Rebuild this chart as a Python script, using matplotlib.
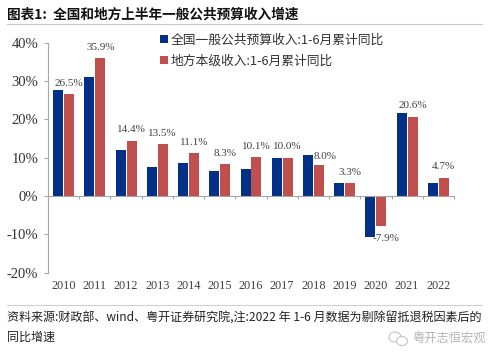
import matplotlib
matplotlib.use('Agg')
import matplotlib.pyplot as plt
from matplotlib.patches import Ellipse

plt.rcParams['font.family'] = ['Noto Sans CJK SC', 'DejaVu Sans']

years = ['2010', '2011', '2012', '2013', '2014', '2015', '2016', '2017', '2018', '2019', '2020', '2021', '2022']
national = [27.5, 31.0, 12.0, 7.5, 8.7, 6.5, 7.0, 9.8, 10.6, 3.4, -10.7, 21.7, 3.3]
local = [26.5, 35.9, 14.4, 13.5, 11.1, 8.3, 10.1, 10.0, 8.0, 3.3, -7.9, 20.6, 4.7]
yticks = [-20, -10, 0, 10, 20, 30, 40]

title = '图表1:  全国和地方上半年一般公共预算收入增速'
name_national = '全国一般公共预算收入:1-6月累计同比'
name_local = '地方本级收入:1-6月累计同比'
note1 = '资料来源:财政部、wind、粤开证券研究院,注:2022 年 1-6 月数据为剔除留抵退税因素后的'
note2 = '同比增速'
watermark = '粤开志恒宏观'

W, H = 500, 360
fig = plt.figure(figsize=(W / 100, H / 100), dpi=100)
ax = fig.add_axes([48 / W, 1 - 272.7 / H, 406 / W, 230.2 / H])

x = list(range(len(years)))
ax.bar([i - 0.175 for i in x], national, width=0.32, color='#003087', label=name_national)
ax.bar([i + 0.175 for i in x], local, width=0.32, color='#C0504D', label=name_local)

ax.set_xlim(-0.5, 12.5)
ax.set_ylim(-20, 40)
for s in ['top', 'right']:
    ax.spines[s].set_visible(False)
ax.spines['bottom'].set_position(('data', 0))
ax.spines['bottom'].set_color('#a6a6a6')
ax.spines['left'].set_color('#a6a6a6')

ax.set_xticks([i - 0.5 for i in range(len(years) + 1)])
ax.set_xticklabels([])
ax.tick_params(axis='x', length=2.5, color='#a6a6a6')
ax.set_yticks(yticks)
ax.set_yticklabels([f'{v}%' for v in yticks], family='Liberation Serif', fontsize=10.5, color='#333333')
ax.tick_params(axis='y', length=3, color='#a6a6a6', pad=4)

for i, y in enumerate(years):
    ax.text(i, -23.4, y, ha='center', va='center', family='Liberation Serif', fontsize=8.8, color='#404040')

# labels sit over the red bar, except 2018 and 2020
for i, v in enumerate(local):
    dx, dy = 0, 8
    if years[i] == '2018':
        dx, dy = 4.5, 6.5
    if years[i] == '2020':
        dx, dy = 3.5, -8.6
    ax.annotate(f'{v}%', (i + 0.175, v), xytext=(dx, dy), textcoords='offset points',
                ha='center', va='center', family='Liberation Serif', fontsize=8, color='#404040')

leg = ax.legend(loc='upper left', bbox_to_anchor=(0.276, 1.038), frameon=False, fontsize=9.2,
                handlelength=0.6, handleheight=0.6, handletextpad=0.2, labelspacing=0.62,
                labelcolor='#333333', borderpad=0, borderaxespad=0)

fig.text(7 / W, 1 - 14.5 / H, title, fontsize=9.85, fontweight='bold', color='#111111', va='center')
fig.add_artist(plt.Line2D([7 / W, 482 / W], [1 - 23.5 / H] * 2, color='#c8c8c8', lw=0.8))
fig.add_artist(plt.Line2D([7 / W, 482 / W], [1 - 305 / H] * 2, color='#d0d0d0', lw=0.8))
fig.text(7 / W, 1 - 318 / H, note1, fontsize=8.67, color='#222222', va='center')
fig.text(7 / W, 1 - 337 / H, note2, fontsize=8.67, color='#222222', va='center')
fig.text(412 / W, 1 - 338 / H, watermark, fontsize=8.8, color='#b4b4b4', va='center')

# wechat mark next to the watermark
fig.add_artist(Ellipse((395 / W, 1 - 337 / H), 12 / W, 10 / H, fc='none', ec='#c4c4c4', lw=0.8))
fig.add_artist(Ellipse((402 / W, 1 - 341 / H), 11 / W, 9 / H, fc='white', ec='#c4c4c4', lw=0.8))

fig.savefig('out.png', dpi=100)
